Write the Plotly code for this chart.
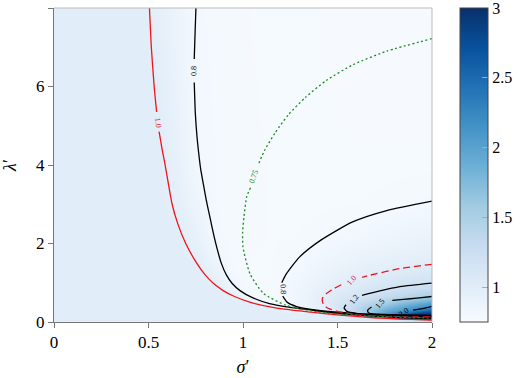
import plotly.graph_objects as go
from plotly.colors import sequential

# heatmap grid (sigma', lambda') and estimated field values
SIGMA_GRID = [0, 0.45, 0.55, 0.65, 0.75, 0.85, 0.95, 1.05, 1.15, 1.25, 1.35,
              1.45, 1.55, 1.65, 1.75, 1.85, 1.95, 2.0]
LAMBDA_GRID = [0, 0.04, 0.1, 0.2, 0.3, 0.45, 0.65, 0.9, 1.2, 1.6, 2.2, 3.0,
               4.0, 5.5, 8.0]
FIELD = [
    [1.0] * 18,
    [1.0] * 14 + [1.05, 1.2, 1.5, 1.7],
    [1.0] * 13 + [1.05, 1.35, 2.0, 2.7, 2.95],
    [1.0] * 12 + [1.15, 1.5, 2.0, 2.55, 3.0, 3.0],
    [1.0] * 9 + [0.88, 0.82, 0.97, 1.24, 1.55, 1.85, 2.1, 2.4, 2.55],
    [1.0] * 7 + [0.99, 0.8, 0.8, 0.9, 1.03, 1.21, 1.4, 1.58, 1.8, 1.98, 2.08],
    [1.0] * 6 + [0.97, 0.8, 0.78, 0.82, 0.9, 1.01, 1.1, 1.19, 1.3, 1.4, 1.48, 1.52],
    [1.0] * 6 + [0.85, 0.78, 0.78, 0.82, 0.88, 0.96, 1.02, 1.08, 1.14, 1.2, 1.25, 1.28],
    [1.0] * 5 + [0.93, 0.8, 0.775, 0.775, 0.805, 0.85, 0.9, 0.95, 0.99, 1.03, 1.07, 1.1, 1.12],
    [1.0] * 4 + [0.98, 0.86, 0.785, 0.775, 0.775, 0.79, 0.82, 0.85, 0.88, 0.91, 0.93, 0.95, 0.97, 0.98],
    [1.0] * 4 + [0.93, 0.8, 0.785, 0.78, 0.775, 0.775, 0.78, 0.8, 0.815, 0.83, 0.85, 0.87, 0.885, 0.89],
    [1.0] * 3 + [0.97, 0.86, 0.795, 0.785, 0.78, 0.775, 0.773, 0.772, 0.772, 0.775, 0.778, 0.785, 0.792, 0.8, 0.805],
    [1.0] * 3 + [0.93, 0.82, 0.795, 0.785, 0.78, 0.775, 0.772, 0.77, 0.769, 0.768, 0.768, 0.768, 0.769, 0.77, 0.77],
    [1.0] * 3 + [0.9, 0.81, 0.79, 0.782, 0.778, 0.774, 0.771, 0.769, 0.767, 0.766, 0.765, 0.764, 0.764, 0.763, 0.763],
    [1.0] * 2 + [0.96, 0.87, 0.8, 0.786, 0.78, 0.776, 0.772, 0.77, 0.768, 0.766, 0.765, 0.764, 0.763, 0.762, 0.761, 0.76],
]

# contour lines (None = gap for the inline label)
RED_OUTER_X = [0.505, 0.515, 0.53, 0.543, None, 0.556, 0.572, 0.588, 0.606, 0.625, 0.655, 0.697,
               0.755, 0.8, 0.84, 0.895, 0.955, 1.04, 1.13, 1.23, 1.36, 1.5, 1.63, 1.76, 1.9, 2.0]
RED_OUTER_Y = [8.0, 7.0, 6.0, 5.35, None, 4.85, 4.4, 4.0, 3.5, 3.0, 2.5, 2.0,
               1.5, 1.2, 1.0, 0.8, 0.65, 0.5, 0.4, 0.32, 0.25, 0.18, 0.13, 0.09, 0.065, 0.05]

BLACK_OUTER_X = [0.751, 0.746, 0.742, None, 0.742, 0.748, 0.757, 0.764, 0.776, 0.79, 0.806, 0.825,
                 0.846, 0.864, 0.885, 0.912, 0.943, 0.984, 1.05, 1.14, 1.25, 1.4, 1.58, 1.8, 2.0]
BLACK_OUTER_Y = [8.0, 7.3, 6.7, None, 6.1, 5.3, 4.7, 4.37, 3.9, 3.52, 3.1, 2.67,
                 2.2, 1.85, 1.5, 1.2, 0.98, 0.8, 0.62, 0.47, 0.37, 0.28, 0.19, 0.12, 0.085]

GREEN_X = [2.0, 1.76, 1.58, 1.44, 1.33, 1.24, 1.17, 1.115, 1.08, None, 1.04, 1.02, 1.005,
           0.998, 1.0, 1.037, 1.108, 1.231, 1.407, 1.67, 2.0]
GREEN_Y = [7.22, 6.9, 6.55, 6.15, 5.72, 5.28, 4.82, 4.38, 4.0, None, 3.42, 3.2, 2.67,
           2.3, 1.91, 1.23, 0.73, 0.42, 0.25, 0.15, 0.1]

LOOP_X = [2.0, 1.76, 1.58, 1.41, 1.30, 1.23, 1.205, None, 1.21, 1.235, 1.28, 1.36, 1.5, 1.7, 2.0]
LOOP_Y = [3.08, 2.84, 2.55, 2.08, 1.66, 1.23, 1.0, None, 0.66, 0.5, 0.4, 0.32, 0.25, 0.18, 0.13]

RED_INNER_X = [2.0, 1.83, 1.67, 1.63, None, 1.52, 1.48, 1.44, 1.42, 1.425, 1.45, 1.5, 1.58, 1.75, 2.0]
RED_INNER_Y = [1.47, 1.36, 1.19, 1.14, None, 0.95, 0.85, 0.72, 0.6, 0.45, 0.35, 0.27, 0.21, 0.17, 0.14]

C12_X = [2.0, 1.83, 1.67, 1.63, None, 1.545, 1.535, 1.55, 1.6, 1.75, 2.0]
C12_Y = [0.99, 0.9, 0.73, 0.68, None, 0.44, 0.36, 0.27, 0.22, 0.18, 0.16]

C15_X = [2.0, 1.92, 1.85, 1.79, None, 1.68, 1.66, 1.665, 1.72, 1.85, 2.0]
C15_Y = [0.65, 0.61, 0.575, 0.55, None, 0.38, 0.3, 0.23, 0.2, 0.18, 0.17]

C20_X = [1.79, 1.8, None, 1.9, 1.95, 2.0]
C20_Y = [0.14, 0.17, None, 0.3, 0.34, 0.4]

# inline labels: text, sigma, lambda, angle, colour
LABELS = [
    ("1.0", 0.55, 5.08, 84, "#e8171c"),
    ("0.8", 0.741, 6.40, -89, "black"),
    ("0.75", 1.058, 3.7, -70, "#1f8a1f"),
    ("0.8", 1.213, 0.83, 88, "black"),
    ("1.0", 1.575, 1.05, -50, "#e8171c"),
    ("1.2", 1.587, 0.58, -55, "black"),
    ("1.5", 1.725, 0.47, -50, "black"),
    ("2.0", 1.85, 0.23, -35, "black"),
]

SERIF = "Liberation Serif"
RED = "#f0141c"
GREEN = "#1f8a1f"

fig = go.Figure()

fig.add_trace(go.Heatmap(
    x=SIGMA_GRID, y=LAMBDA_GRID, z=FIELD,
    zsmooth="best",
    colorscale=sequential.Blues,
    zmin=0.75, zmax=3.0005,
    colorbar=dict(
        x=1.074, xanchor="left", xpad=0, y=0.5, yanchor="middle", ypad=0,
        len=1.0, thickness=28,
        outlinecolor="#444", outlinewidth=1,
        ticks="inside", ticklen=6, tickcolor="#aaa",
        tickvals=[1, 1.5, 2, 2.5, 3], ticktext=["1", "1.5", "2", "2.5", "3"],
        ticklabeloverflow="allow",
        tickfont=dict(family=SERIF, size=16, color="black"),
    ),
    hoverinfo="skip",
))

lines = [
    (RED_OUTER_X, RED_OUTER_Y, RED, "solid"),
    (BLACK_OUTER_X, BLACK_OUTER_Y, "black", "solid"),
    (GREEN_X, GREEN_Y, GREEN, "2px,2.5px"),
    (LOOP_X, LOOP_Y, "black", "solid"),
    (RED_INNER_X, RED_INNER_Y, RED, "7px,4px"),
    (C12_X, C12_Y, "black", "solid"),
    (C15_X, C15_Y, "black", "solid"),
    (C20_X, C20_Y, "black", "solid"),
]
for xs, ys, color, dash in lines:
    fig.add_trace(go.Scatter(
        x=xs, y=ys, mode="lines",
        line=dict(color=color, width=1.3, dash=dash, shape="spline", smoothing=0.6),
        connectgaps=False, showlegend=False, hoverinfo="skip",
    ))

for text, sx, ly, ang, color in LABELS:
    fig.add_annotation(
        x=sx, y=ly, text=text, showarrow=False, textangle=ang,
        font=dict(family=SERIF, size=8, color=color),
    )

# light frame on top and right
fig.add_shape(type="line", xref="paper", yref="paper", x0=0, x1=1, y0=1, y1=1,
              line=dict(color="#bbbbbb", width=1))
fig.add_shape(type="line", xref="paper", yref="paper", x0=1, x1=1, y0=0, y1=1,
              line=dict(color="#bbbbbb", width=1))

fig.update_xaxes(
    range=[0, 2], tickvals=[0, 0.5, 1, 1.5, 2], ticktext=["0", "0.5", "1", "1.5", "2"],
    showgrid=False, zeroline=False,
    showline=True, linecolor="#777", linewidth=1,
    ticks="outside", ticklen=5, tickcolor="#777",
    tickfont=dict(family=SERIF, size=17, color="black"),
    title=dict(text="<i>σ</i>′", font=dict(family=SERIF, size=18, color="black"), standoff=8),
)
fig.update_yaxes(
    range=[0, 8], tickvals=[0, 2, 4, 6, 8],
    showgrid=False, zeroline=False,
    showline=True, linecolor="#777", linewidth=1,
    ticks="outside", ticklen=5, tickcolor="#777",
    tickfont=dict(family=SERIF, size=17, color="black"),
    title=dict(text="<i>λ</i>′", font=dict(family=SERIF, size=18, color="black"), standoff=14),
)

fig.update_layout(
    width=520, height=378,
    margin=dict(l=54, r=88, t=8, b=56, autoexpand=False),
    paper_bgcolor="white", plot_bgcolor="white",
    showlegend=False,
)

# drop the browser's default page margin so the figure sits at the top-left corner
fig.write_html("out.html", config={"displayModeBar": False},
               post_script="document.body.style.margin='0';")
